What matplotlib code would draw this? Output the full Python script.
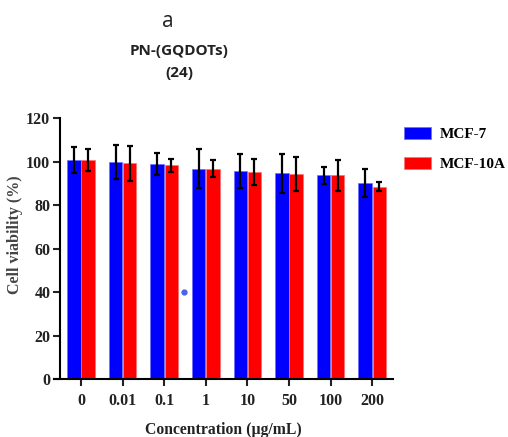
import numpy as np
import matplotlib
matplotlib.use('Agg')
import matplotlib.pyplot as plt

concentrations = ['0', '0.01', '0.1', '1', '10', '50', '100', '200']
mcf7 = [101, 99.9, 99.0, 96.8, 95.8, 94.7, 93.8, 90.1]
mcf7_err = [6, 8, 5, 9, 8, 9, 4, 6.5]
mcf10a = [101, 99.3, 98.4, 96.8, 95.3, 94.4, 93.8, 88.6]
mcf10a_err = [5, 8, 3, 4, 6, 8, 7, 2]

# stray dot that sits inside the plot in the original figure
stray_x = [2.48]
stray_y = [40]

plt.rcParams['font.family'] = 'Liberation Serif'
plt.rcParams['font.weight'] = 'bold'

fig = plt.figure(figsize=(5.08, 4.37), dpi=100)
ax = fig.add_axes([54/508, 1 - 379.3/437, 339/508, 261/437])

x = np.arange(len(concentrations))
w = 0.32
off = 0.17
ekw = dict(ecolor='black', elinewidth=1.6, capsize=2.5, capthick=1.6)
ax.bar(x - off, mcf7, w, color='#0000ff', edgecolor='#6f6fff', linewidth=0.5,
       yerr=mcf7_err, error_kw=ekw, label='MCF-7')
ax.bar(x + off, mcf10a, w, color='#ff0000', edgecolor='#ff7070', linewidth=0.5,
       yerr=mcf10a_err, error_kw=ekw, label='MCF-10A')
ax.plot(stray_x, stray_y, 'o', color='#4a62e6', markersize=3.5)

ax.set_xlim(-0.649, 7.5)
ax.set_ylim(0, 120)
ax.set_yticks(range(0, 121, 20))
ax.set_xticks(x)
ax.set_xticklabels(concentrations)

for s in ['top', 'right']:
    ax.spines[s].set_visible(False)
ax.spines['left'].set_position(('data', -0.505))
ax.spines['left'].set_linewidth(1.5)
ax.spines['bottom'].set_linewidth(1.5)
ax.tick_params(axis='both', length=5, width=1.5, labelsize=11.5, colors='#222222')
ax.tick_params(axis='y', pad=2)
ax.tick_params(axis='x', pad=5)

ax.set_ylabel('Cell viability (%)', fontsize=11.5, fontweight='bold', color='#444444')
ax.yaxis.set_label_coords(-0.09, 0.553)
ax.set_xlabel('Concentration (\u00b5g/mL)', fontsize=11.3, fontweight='bold', color='#222222', labelpad=9)

ax.legend(loc='upper left', bbox_to_anchor=(404/508, 1 - 127/437), bbox_transform=fig.transFigure,
          frameon=False, fontsize=11, handlelength=1.77, handleheight=0.87,
          handletextpad=0.55, labelspacing=1.0, borderpad=0, borderaxespad=0)

fig.text(168/508, 1 - 27/437, 'a', fontsize=15, family='Open Sans', fontweight='normal',
         ha='center', va='baseline', color='#222222')
fig.text(179/508, 1 - 55/437, 'PN-(GQDOTs)', fontsize=11, family='Open Sans', fontweight='bold',
         ha='center', va='baseline', color='#222222')
fig.text(179/508, 1 - 77/437, '(24)', fontsize=11, family='Open Sans', fontweight='bold',
         ha='center', va='baseline', color='#222222')

plt.savefig('out.png', dpi=100)
